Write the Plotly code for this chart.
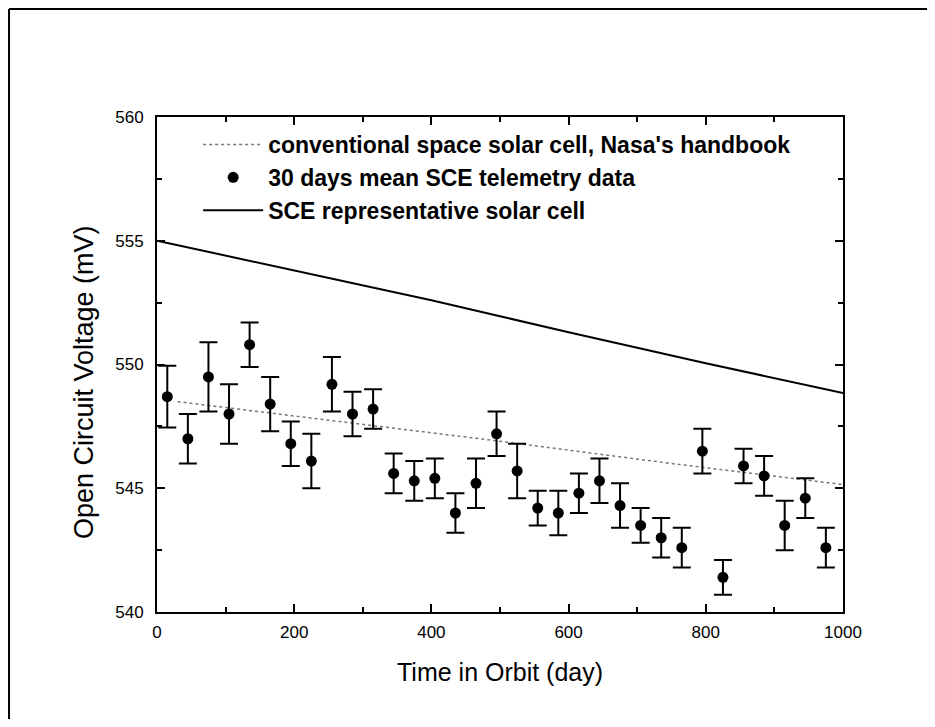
import plotly.graph_objects as go

# Data #
days = [15, 45, 75, 105, 135, 165, 195, 225, 255, 285, 315, 345, 375, 405, 435, 465, 495,
        525, 555, 585, 615, 645, 675, 705, 735, 765, 795, 825, 855, 885, 915, 945, 975]
voc_mean = [548.7, 547.0, 549.5, 548.0, 550.8, 548.4, 546.8, 546.1, 549.2, 548.0, 548.2,
            545.6, 545.3, 545.4, 544.0, 545.2, 547.2, 545.7, 544.2, 544.0, 544.8, 545.3,
            544.3, 543.5, 543.0, 542.6, 546.5, 541.4, 545.9, 545.5, 543.5, 544.6, 542.6]
voc_err = [1.25, 1.0, 1.4, 1.2, 0.9, 1.1, 0.9, 1.1, 1.1, 0.9, 0.8, 0.8, 0.8, 0.8, 0.8, 1.0,
           0.9, 1.1, 0.7, 0.9, 0.8, 0.9, 0.9, 0.7, 0.8, 0.8, 0.9, 0.7, 0.7, 0.8, 1.0, 0.8, 0.8]

handbook_days = [30, 250, 500, 750, 1000]
handbook_voc = [548.5, 547.75, 546.9, 546.0, 545.15]

sce_days = [0, 200, 400, 500, 600, 800, 1000]
sce_voc = [555.0, 553.8, 552.6, 551.95, 551.3, 550.05, 548.85]

labels = ["conventional space solar cell, Nasa's handbook",
          "30 days mean SCE telemetry data",
          "SCE representative solar cell"]

x_ticks = [0, 200, 400, 600, 800, 1000]
y_ticks = [540, 545, 550, 555, 560]

fig = go.Figure()

fig.add_trace(go.Scatter(
    x=handbook_days, y=handbook_voc, name=labels[0], mode="lines",
    line=dict(color="#777777", width=1.5, dash="dot"),
))
fig.add_trace(go.Scatter(
    x=days, y=voc_mean, name=labels[1], mode="markers",
    marker=dict(color="black", size=11, symbol="circle"),
    error_y=dict(type="data", array=voc_err, visible=True,
                 color="black", thickness=2, width=9),
))
fig.add_trace(go.Scatter(
    x=sce_days, y=sce_voc, name=labels[2], mode="lines",
    line=dict(color="black", width=2),
))

axis_common = dict(
    showline=True, linecolor="black", linewidth=2, mirror="ticks",
    ticks="inside", ticklen=8, tickwidth=1.5, tickcolor="black",
    showgrid=False, zeroline=False,
    tickfont=dict(family="Liberation Sans, Arial", size=17, color="black"),
)

fig.update_xaxes(
    range=[0, 1000], tickvals=x_ticks,
    minor=dict(dtick=100, ticks="inside", ticklen=5, tickwidth=1.5, tickcolor="black"),
    ticklabelstandoff=4,
    **axis_common,
)
fig.update_yaxes(
    range=[540, 560], tickvals=y_ticks,
    minor=dict(dtick=2.5, ticks="inside", ticklen=5, tickwidth=1.5, tickcolor="black"),
    ticklabelstandoff=8,
    **axis_common,
)

# outer frame of the scanned figure: only left and top edges show
fig.add_shape(type="line", xref="paper", yref="paper",
              x0=-0.2157, x1=-0.2157, y0=-0.3, y1=1.2182,
              line=dict(color="black", width=2))
fig.add_shape(type="line", xref="paper", yref="paper",
              x0=-0.2157, x1=1.3, y0=1.2182, y1=1.2182,
              line=dict(color="black", width=2))

fig.add_annotation(text="Time in Orbit (day)", xref="paper", yref="paper",
                   x=0.5, y=-0.121, showarrow=False, yanchor="middle",
                   font=dict(family="Liberation Sans, Arial", size=25, color="black"))
fig.add_annotation(text="Open Circuit Voltage (mV)", xref="paper", yref="paper",
                   x=-0.106, y=0.465, showarrow=False, textangle=-90,
                   xanchor="center", yanchor="middle",
                   font=dict(family="Liberation Sans, Arial", size=27, color="black"))

# page body has an 8px margin, so the figure is sized to fit inside the window
fig.update_layout(
    width=919, height=711,
    margin=dict(l=149, r=84, t=109, b=107),
    paper_bgcolor="white", plot_bgcolor="white",
    showlegend=True,
    legend=dict(
        x=0.06, y=0.988, xanchor="left", yanchor="top",
        bgcolor="rgba(0,0,0,0)", itemwidth=60,
        font=dict(family="Liberation Sans, Arial", size=23, color="black", weight="bold"),
        tracegroupgap=0,
    ),
)

fig.write_html("out.html")
